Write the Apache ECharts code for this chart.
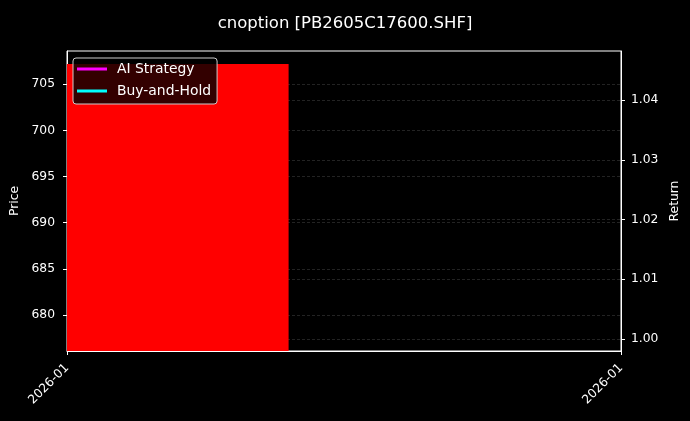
<!DOCTYPE html>
<html>
<head>
<meta charset="utf-8">
<script src="https://cdn.jsdelivr.net/npm/echarts@6/dist/echarts.min.js"></script>
<style>
html,body{margin:0;padding:0;background:#000;}
#c{width:690px;height:421px;}
</style>
</head>
<body>
<div id="c"></div>
<script>
// ---- data ----
const titleText = 'cnoption [PB2605C17600.SHF]';
const xTickPositions = [0, 1];
const xTickLabels = ['2026-01', '2026-01'];
const barStart = [0];
const barEnd = [0.4];
const priceValues = [707.2];
const priceTicks = [680, 685, 690, 695, 700, 705];
const returnTicks = [1.00, 1.01, 1.02, 1.03, 1.04];
const strategyReturn = [[0, 1.0]];
const buyHoldReturn = [[0, 1.0]];
const priceRange = [676.1, 708.6];
const returnRange = [0.998, 1.0482];

const font = 'DejaVu Sans';
const chart = echarts.init(document.getElementById('c'));

const barData = barStart.map((s, i) => [s, barEnd[i], priceValues[i]]);

const gridLine = {show: true, lineStyle: {color: 'rgba(150,150,150,0.4)', type: [3, 2], width: 0.6}};

chart.setOption({
  backgroundColor: '#000',
  animation: false,
  title: {
    text: titleText, left: 'center', top: 10,
    textStyle: {color: '#fff', fontFamily: font, fontSize: 16.5, fontWeight: 'normal'}
  },
  legend: {
    left: 73, top: 58, orient: 'vertical',
    data: ['AI Strategy', 'Buy-and-Hold'],
    icon: 'rect', itemWidth: 30, itemHeight: 3, itemGap: 6,
    backgroundColor: 'rgba(0,0,0,0.8)', borderColor: '#ccc', borderWidth: 1, borderRadius: 3,
    padding: [3, 6, 5, 4],
    textStyle: {color: '#fff', fontFamily: font, fontSize: 13.9, lineHeight: 16, padding: [0, 0, 0, 5]}
  },
  grid: {left: 67, right: 69, top: 51, bottom: 70, show: true, borderColor: '#fff', borderWidth: 1, backgroundColor: 'transparent'},
  xAxis: {
    type: 'value', min: 0, max: 1,
    axisLine: {show: true, lineStyle: {color: '#fff'}},
    axisTick: {show: true, customValues: xTickPositions, length: 4, lineStyle: {color: '#fff'}},
    axisLabel: {
      customValues: xTickPositions, rotate: 45, margin: 15,
      color: '#fff', fontFamily: font, fontSize: 12.3,
      formatter: (v) => xTickLabels[xTickPositions.indexOf(v)]
    },
    splitLine: {show: false}
  },
  yAxis: [
    {
      type: 'value', min: priceRange[0], max: priceRange[1], position: 'left',
      name: 'Price', nameLocation: 'middle', nameGap: 42,
      nameTextStyle: {color: '#fff', fontFamily: font, fontSize: 12.3},
      axisLine: {show: true, lineStyle: {color: '#fff'}},
      axisTick: {show: true, customValues: priceTicks, length: 4, lineStyle: {color: '#fff'}},
      axisLabel: {customValues: priceTicks, color: '#fff', fontFamily: font, fontSize: 12.3, margin: 12},
      splitLine: gridLine
    },
    {
      type: 'value', min: returnRange[0], max: returnRange[1], position: 'right',
      name: 'Return', nameLocation: 'middle', nameGap: 43,
      nameTextStyle: {color: '#fff', fontFamily: font, fontSize: 12.3},
      axisLine: {show: true, lineStyle: {color: '#fff'}},
      axisTick: {show: true, customValues: returnTicks, length: 4, lineStyle: {color: '#fff'}},
      axisLabel: {customValues: returnTicks, color: '#fff', fontFamily: font, fontSize: 12.3, margin: 10,
        formatter: (v) => v.toFixed(2)},
      splitLine: gridLine
    }
  ],
  series: [
    {
      name: 'Price', type: 'custom', xAxisIndex: 0, yAxisIndex: 0, z: 1,
      data: barData,
      renderItem: function (params, api) {
        const p1 = api.coord([api.value(0), api.value(2)]);
        const p2 = api.coord([api.value(1), 0]);
        const shape = echarts.graphic.clipRectByRect(
          {x: p1[0], y: p1[1], width: p2[0] - p1[0], height: p2[1] - p1[1]},
          {x: params.coordSys.x, y: params.coordSys.y, width: params.coordSys.width, height: params.coordSys.height}
        );
        return shape && {type: 'rect', shape: shape, style: {fill: '#ff0000'}};
      },
      encode: {x: [0, 1], y: 2}
    },
    {
      name: 'AI Strategy', type: 'line', yAxisIndex: 1, data: strategyReturn,
      showSymbol: false, lineStyle: {color: '#ff00ff', width: 2}, itemStyle: {color: '#ff00ff'}, z: 3
    },
    {
      name: 'Buy-and-Hold', type: 'line', yAxisIndex: 1, data: buyHoldReturn,
      showSymbol: false, lineStyle: {color: '#00ffff', width: 2}, itemStyle: {color: '#00ffff'}, z: 3
    }
  ]
});
</script>
</body>
</html>
